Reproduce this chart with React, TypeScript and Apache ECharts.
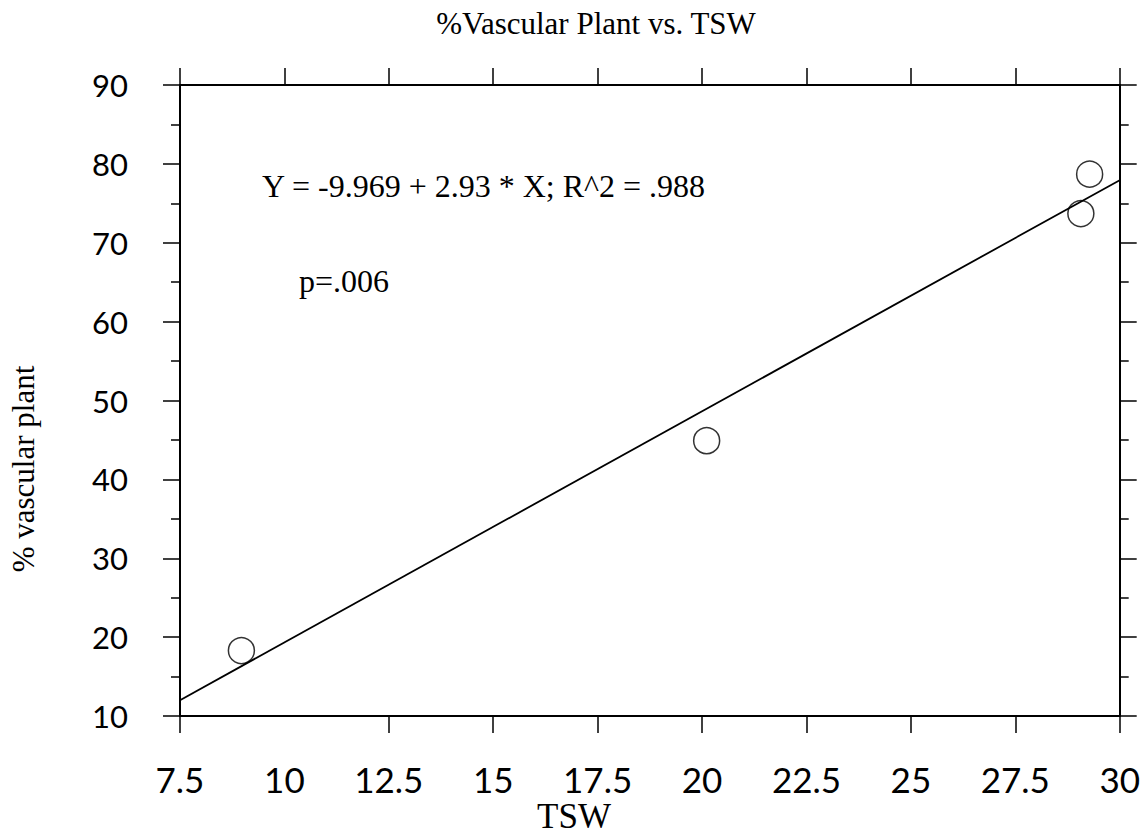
import React, { useEffect, useRef } from "react";
import * as echarts from "echarts";

const tswValues = [8.97, 20.11, 29.07, 29.28];
const vascularValues = [18.3, 44.9, 73.7, 78.7];
const fitIntercept = -9.969;
const fitSlope = 2.93;
const fitRange = [7.5, 30];
const xTickValues = [7.5, 12.5, 15, 17.5, 20, 22.5, 25, 27.5, 30];
const titleText = "%Vascular Plant vs. TSW";
const equationText = "Y = -9.969 + 2.93 * X; R^2 = .988";
const pText = "p=.006";
const xName = "TSW";
const yName = "% vascular plant";

export default function App() {
  const ref = useRef<HTMLDivElement>(null);
  useEffect(() => {
    if (!ref.current) return;
    const chart = echarts.init(ref.current, null, { renderer: "svg" });
    const serif = "'Liberation Serif', 'Times New Roman', serif";
    const sans = "Lato, 'DejaVu Sans', sans-serif";
    const black = "#000";
    const fitData = fitRange.map((x) => [x, fitIntercept + fitSlope * x]);
    chart.setOption({
      animation: false,
      backgroundColor: "#fff",
      grid: { left: 180, right: 19, top: 85, bottom: 121, containLabel: false },
      xAxis: [
        {
          type: "value",
          position: "bottom",
          min: 7.5,
          max: 30,
          interval: 2.5,
          axisLine: { show: true, onZero: false, lineStyle: { color: black, width: 2 } },
          axisTick: { show: true, inside: false, length: 17, customValues: xTickValues, lineStyle: { color: black, width: 1.5 } },
          axisLabel: { color: black, fontSize: 35, fontFamily: sans, margin: 45 },
          splitLine: { show: false },
        },
        {
          type: "value",
          position: "top",
          min: 7.5,
          max: 30,
          interval: 2.5,
          axisLine: { show: true, onZero: false, lineStyle: { color: black, width: 2 } },
          axisTick: { show: true, inside: false, length: 17, lineStyle: { color: black, width: 1.5 } },
          axisLabel: { show: false },
          splitLine: { show: false },
        },
      ],
      yAxis: [
        {
          type: "value",
          position: "left",
          min: 10,
          max: 90,
          interval: 10,
          axisLine: { show: true, onZero: false, lineStyle: { color: black, width: 2 } },
          axisTick: { show: true, inside: false, length: 17, lineStyle: { color: black, width: 1.5 } },
          minorTick: { show: true, splitNumber: 2, length: 9, lineStyle: { color: black, width: 1.5 } },
          axisLabel: { color: black, fontSize: 31, fontFamily: sans, margin: 52 },
          splitLine: { show: false },
        },
        {
          type: "value",
          position: "right",
          min: 10,
          max: 90,
          interval: 10,
          axisLine: { show: true, onZero: false, lineStyle: { color: black, width: 2 } },
          axisTick: { show: true, inside: false, length: 17, lineStyle: { color: black, width: 1.5 } },
          minorTick: { show: true, splitNumber: 2, length: 9, lineStyle: { color: black, width: 1.5 } },
          axisLabel: { show: false },
          splitLine: { show: false },
        },
      ],
      series: [
        {
          type: "line",
          xAxisIndex: 0,
          yAxisIndex: 0,
          data: fitData,
          showSymbol: false,
          symbol: "none",
          lineStyle: { color: black, width: 1.8 },
          silent: true,
        },
        {
          type: "scatter",
          xAxisIndex: 0,
          yAxisIndex: 0,
          data: tswValues.map((x, i) => [x, vascularValues[i]]),
          symbol: "circle",
          symbolSize: 26,
          itemStyle: { color: "rgba(255,255,255,0)", borderColor: black, borderWidth: 1.5 },
        },
      ],
      graphic: [
        {
          type: "text",
          x: 596,
          y: 23,
          style: { text: titleText, fill: black, font: `31px ${serif}`, align: "center", verticalAlign: "middle" },
        },
        {
          type: "text",
          x: 262,
          y: 186,
          style: { text: equationText, fill: black, font: `32px ${serif}`, align: "left", verticalAlign: "middle" },
        },
        {
          type: "text",
          x: 299,
          y: 281,
          style: { text: pText, fill: black, font: `32px ${serif}`, align: "left", verticalAlign: "middle" },
        },
        {
          type: "text",
          x: 574,
          y: 816,
          style: { text: xName, fill: black, font: `35px ${serif}`, align: "center", verticalAlign: "middle" },
        },
        {
          type: "text",
          x: 23,
          y: 469,
          rotation: Math.PI / 2,
          style: { text: yName, fill: black, font: `31px ${serif}`, align: "center", verticalAlign: "middle" },
        },
      ],
    });
    return () => chart.dispose();
  }, []);
  return <div ref={ref} style={{ width: 1143, height: 837, position: "absolute", left: 0, top: 0 }} />;
}
